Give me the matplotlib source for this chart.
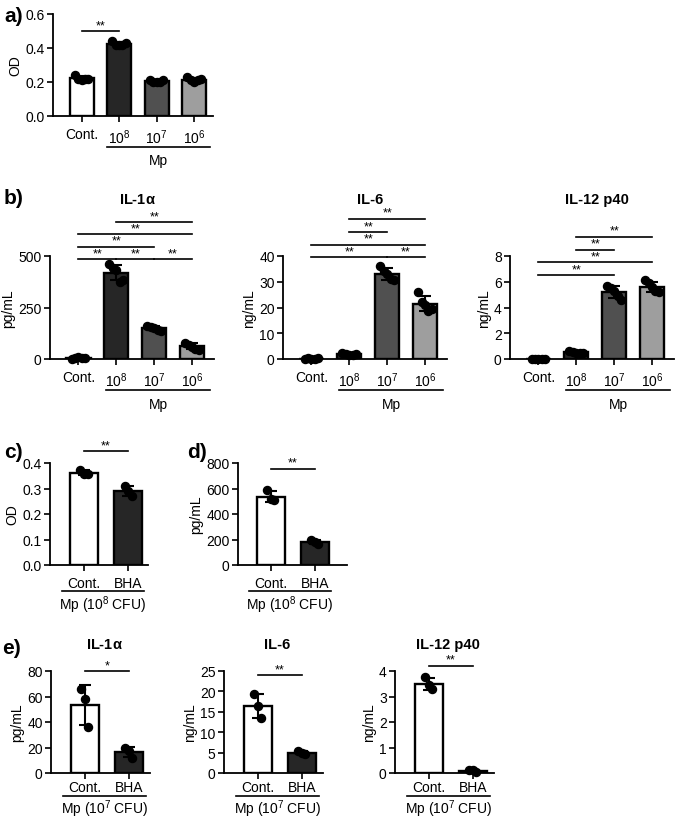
import numpy as np
import matplotlib
matplotlib.use("Agg")
import matplotlib.pyplot as plt

plt.rcParams['font.family'] = ['Liberation Sans', 'DejaVu Sans']
plt.rcParams['mathtext.fontset'] = 'custom'
plt.rcParams['mathtext.rm'] = 'Liberation Sans'
plt.rcParams['font.size'] = 10

# ---------------------------------------------------------------------
# Data (individual points per group)
# ---------------------------------------------------------------------

dose_labels = ['Cont.', r'10$^{\mathregular{8}}$', r'10$^{\mathregular{7}}$', r'10$^{\mathregular{6}}$']
bha_labels = ['Cont.', 'BHA']

# a) OD
od_dose = [[0.24, 0.22, 0.21, 0.22, 0.22],
           [0.44, 0.42, 0.42, 0.42, 0.43],
           [0.21, 0.20, 0.20, 0.20, 0.21],
           [0.23, 0.21, 0.20, 0.21, 0.22]]

# b) cytokines vs dose
il1a_dose = [[2, 5, 8, 4, 6],
             [460, 440, 430, 375, 385],
             [160, 155, 150, 140, 138],
             [80, 70, 60, 50, 45]]
il6_dose = [[0.1, 0.2, 0.1, 0.1, 0.2],
            [2.2, 1.8, 1.6, 1.5, 2.0],
            [36, 34, 33, 31, 30.5],
            [26, 22, 21, 18.5, 19.5]]
il12_dose = [[0.02, 0.03, 0.02, 0.02, 0.03],
             [0.6, 0.55, 0.5, 0.45, 0.5],
             [5.7, 5.5, 5.3, 4.9, 4.6],
             [6.1, 5.9, 5.6, 5.3, 5.2]]

# c) / d) BHA, Mp 10^8
od_bha = [[0.372, 0.358, 0.355], [0.31, 0.29, 0.27]]
il1a_bha8 = [[585, 515, 510], [195, 180, 165]]

# e) BHA, Mp 10^7
il1a_bha7 = [[66, 58, 36], [20, 17, 12]]
il6_bha7 = [[19.3, 16.3, 13.5], [5.4, 5.0, 4.6]]
il12_bha7 = [[3.75, 3.45, 3.3], [0.12, 0.1, 0.02]]

# significance brackets: (group i, group j, height, label)
sig_a = [(0, 1, 0.5, '**')]
sig_il1a = [(0, 1, 485, '**'), (1, 2, 485, '**'), (2, 3, 485, '**'),
            (0, 2, 544, '**'), (0, 3, 607, '**'), (1, 3, 665, '**')]
sig_il6 = [(0, 2, 39.6, '**'), (2, 3, 39.6, '**'), (0, 3, 44.3, '**'),
           (1, 2, 49.3, '**'), (1, 3, 54.4, '**')]
sig_il12 = [(0, 2, 6.5, '**'), (0, 3, 7.5, '**'), (1, 2, 8.5, '**'), (1, 3, 9.5, '**')]
sig_c = [(0, 1, 0.447, '**')]
sig_d = [(0, 1, 755, '**')]
sig_e1 = [(0, 1, 80, '*')]
sig_e2 = [(0, 1, 24.0, '**')]
sig_e3 = [(0, 1, 4.2, '**')]

dose_colors = ['#ffffff', '#262626', '#505050', '#9e9e9e']
bha_colors = ['#ffffff', '#262626']

W, H = 675, 820
fig = plt.figure(figsize=(W / 100, H / 100), dpi=100)


def add_axes(left, top, width, height):
    # pixel box -> figure fraction
    return fig.add_axes([left / W, 1 - (top + height) / H, width / W, height / H])


def bar_panel(ax, groups, colors, labels, ymax, ystep, ylabel, sigs, xlim,
              group_text, group_span, line_y, text_y, xpad=4, barw=0.64):
    means = [np.mean(g) for g in groups]
    sds = [np.std(g, ddof=1) for g in groups]
    x = np.arange(len(groups))
    ax.bar(x, means, width=barw, color=colors, edgecolor='black', linewidth=1.7, zorder=2)
    ax.errorbar(x, means, yerr=sds, fmt='none', ecolor='black', elinewidth=1.5,
                capsize=4, capthick=1.5, zorder=3, clip_on=False)
    for i, g in enumerate(groups):
        n = len(g)
        offs = np.linspace(-0.18, 0.18, n) if n > 3 else np.array([-0.08, 0.0, 0.08])
        ax.plot(x[i] + offs, g, 'o', color='black', markersize=5.8, zorder=4, clip_on=False)

    ax.set_xlim(*xlim)
    ax.set_ylim(0, ymax)
    ax.set_yticks(np.arange(0, ymax + ystep / 2, ystep))
    ax.set_xticks(x)
    ax.set_xticklabels(labels)
    ax.set_ylabel(ylabel, labelpad=2, fontsize=10)
    for s in ['top', 'right']:
        ax.spines[s].set_visible(False)
    for s in ['left', 'bottom']:
        ax.spines[s].set_linewidth(1.3)
    ax.tick_params(width=1.2, length=4, pad=2, labelsize=10)
    ax.tick_params(axis='x', pad=xpad)

    for i, j, y, txt in sigs:
        ax.plot([i, j], [y, y], color='black', lw=1.2, clip_on=False)
        ax.text((i + j) / 2, y, txt, ha='center', va='bottom', fontsize=9, clip_on=False)

    tr = ax.get_xaxis_transform()
    ax.plot(group_span, [line_y, line_y], color='black', lw=1.2, transform=tr, clip_on=False)
    ax.text(np.mean(group_span), text_y, group_text, transform=tr, ha='center', va='center',
            fontsize=10)


# a)
ax = add_axes(53, 15, 160, 102)
bar_panel(ax, od_dose, dose_colors, dose_labels, 0.6, 0.2, 'OD', sig_a, (-0.76, 3.5),
          'Mp', [0.68, 3.43], -0.30, -0.43)
ax.set_yticklabels(['0.0', '0.2', '0.4', '0.6'])

# b)
b_sets = [(50, il1a_dose, 500, 250, 'pg/mL', sig_il1a, r'IL-1$\mathregular{\alpha}$'),
          (283, il6_dose, 40, 10, 'ng/mL', sig_il6, 'IL-6'),
          (510, il12_dose, 8, 2, 'ng/mL', sig_il12, 'IL-12 p40')]
for left, vals, ymax, ystep, ylab, sigs, title in b_sets:
    ax = add_axes(left, 257, 164, 103)
    bar_panel(ax, vals, dose_colors, dose_labels, ymax, ystep, ylab, sigs, (-0.75, 3.58),
              'Mp', [0.72, 3.48], -0.30, -0.44)
    fig.text((left + 82 + 5) / W, 1 - 200 / H, title, ha='center', va='center',
             fontsize=10.5, fontweight='bold')

# c) and d)
mp8 = r'Mp (10$^{\mathregular{8}}$ CFU)'
ax = add_axes(50, 464, 98, 102)
bar_panel(ax, od_bha, bha_colors, bha_labels, 0.4, 0.1, 'OD', sig_c, (-0.77, 1.45),
          mp8, [-0.5, 1.36], -0.255, -0.385)
ax.set_yticklabels(['0.0', '0.1', '0.2', '0.3', '0.4'])

ax = add_axes(238, 464, 109, 102)
bar_panel(ax, il1a_bha8, bha_colors, bha_labels, 800, 200, 'pg/mL', sig_d, (-0.75, 1.73),
          mp8, [-0.5, 1.36], -0.255, -0.385)

# e)
mp7 = r'Mp (10$^{\mathregular{7}}$ CFU)'
e_sets = [(51, il1a_bha7, 80, 20, 'pg/mL', sig_e1, r'IL-1$\mathregular{\alpha}$'),
          (224, il6_bha7, 25, 5, 'ng/mL', sig_e2, 'IL-6'),
          (395, il12_bha7, 4, 1, 'ng/mL', sig_e3, 'IL-12 p40')]
for left, vals, ymax, ystep, ylab, sigs, title in e_sets:
    ax = add_axes(left, 672, 99, 102)
    bar_panel(ax, vals, bha_colors, bha_labels, ymax, ystep, ylab, sigs, (-0.77, 1.48),
              mp7, [-0.5, 1.38], -0.23, -0.345, xpad=1)
    fig.text((left + 53) / W, 1 - 645 / H, title, ha='center', va='center',
             fontsize=10.5, fontweight='bold')

# panel letters
for lbl, px, py in [('a)', 4, 16), ('b)', 4, 198), ('c)', 4, 452), ('d)', 187, 452), ('e)', 2, 648)]:
    fig.text(px / W, 1 - py / H, lbl, ha='left', va='center', fontsize=15, fontweight='bold')

fig.savefig('out.png', dpi=100, facecolor='white')
